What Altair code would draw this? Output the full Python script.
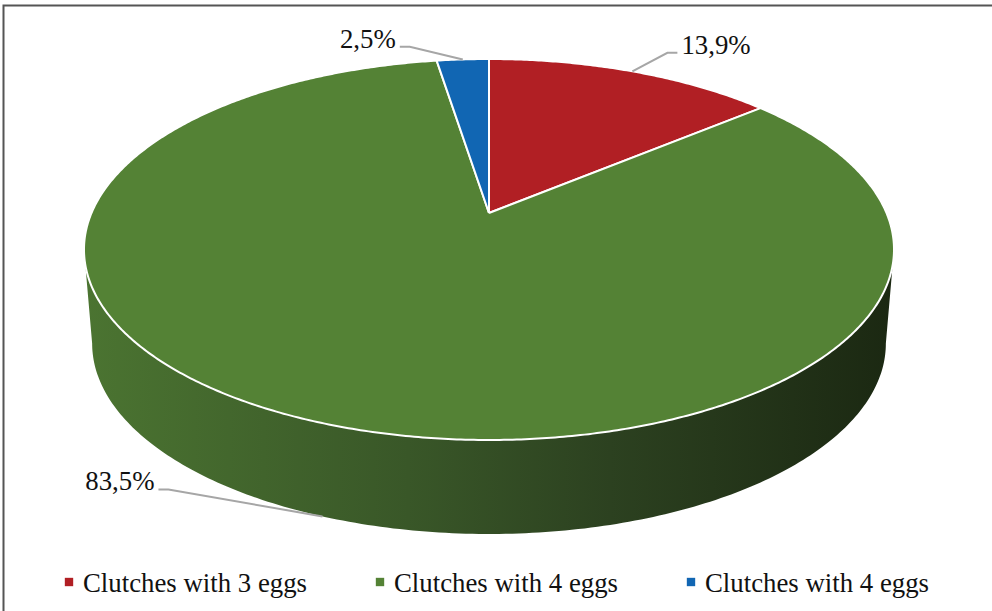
import altair as alt
import numpy as np
import pandas as pd

# ---- data ----
categories = ["Clutches with 3 eggs", "Clutches with 4 eggs", "Clutches with 4 eggs"]
values = [13.9, 83.5, 2.5]
labels = ["13,9%", "83,5%", "2,5%"]
colors = ["#b11f24", "#548235", "#1166b3"]

# ---- layout / style constants ----
W, H = 992, 611
CX, CY = 489.0, 213.0      # pie apex on screen
A, B, K = 397.5, 183.5, 0.1916   # top face size and perspective
A2, CY2 = 389.5, 307.0     # bottom face
FONT = "Liberation Serif, Times New Roman, DejaVu Serif, serif"
FS = 26.8
# leader elbows relative to the slice anchor (label layout)
elbow_off = [(35, -18.5), (-154, -27), (-53, -12.7)]
wall_stops = [(0.0, "#4b7431"), (0.4, "#395728"), (0.65, "#2c4120"), (1.0, "#1b2812")]


def rim(theta_deg, bottom=False):
    t = np.radians(theta_deg)
    u, v = np.cos(t), np.sin(t)
    d = 1 + K * v
    a = A2 if bottom else A
    cy = CY2 if bottom else CY
    return CX + a * u / d, cy - B * v / d


total = sum(values)
fr = np.array(values) / total
ends = np.cumsum(fr)
starts = ends - fr
th_start = 90 - 360 * starts
th_end = 90 - 360 * ends

xs = alt.Scale(domain=[0, W], nice=False, zero=False)
ys = alt.Scale(domain=[0, H], nice=False, zero=False, reverse=True)


def enc(ch, xf="x", yf="y"):
    return ch.encode(
        x=alt.X(f"{xf}:Q", scale=xs, axis=None),
        y=alt.Y(f"{yf}:Q", scale=ys, axis=None),
        order=alt.Order("k:Q"),
    )


layers = []

# frame
frame = alt.Chart(pd.DataFrame({"a": [0]})).mark_rect(
    fill="white", stroke="#555555", strokeWidth=2
).encode(x=alt.value(3.5), x2=alt.value(1000), y=alt.value(5.5), y2=alt.value(640))
layers.append(frame)

# side wall (front part of each slice)
sil = np.degrees(np.arcsin(K))
front_lo, front_hi = -180 + sil, -sil
for i in range(len(values)):
    lo = max(th_end[i], front_lo)
    hi = min(th_start[i], front_hi)
    if hi <= lo:
        continue
    ths = np.linspace(hi, lo, 200)
    pts = [rim(t) for t in ths] + [rim(t, True) for t in ths[::-1]]
    pts.append(pts[0])
    df = pd.DataFrame({"x": [p[0] for p in pts], "y": [p[1] for p in pts], "k": range(len(pts))})
    grad = {
        "gradient": "linear", "x1": 0, "y1": 0, "x2": 1, "y2": 0,
        "stops": [{"offset": o, "color": c} for o, c in wall_stops],
    } if i == 1 else colors[i]
    layers.append(enc(alt.Chart(df).mark_line(fill=grad, stroke=None, strokeWidth=0)))

# top face slices
for i in range(len(values)):
    n = max(int(abs(th_start[i] - th_end[i]) / 0.5), 2)
    ths = np.linspace(th_start[i], th_end[i], n + 1)
    pts = [(CX, CY)] + [rim(t) for t in ths] + [(CX, CY)]
    df = pd.DataFrame({"x": [p[0] for p in pts], "y": [p[1] for p in pts], "k": range(len(pts))})
    layers.append(enc(alt.Chart(df).mark_line(
        fill=colors[i], stroke="white", strokeWidth=2, strokeJoin="round")))

# leader lines and labels
lead_rows, lab_rows = [], []
for i in range(len(values)):
    mid = (th_start[i] + th_end[i]) / 2
    front = np.sin(np.radians(mid)) < 0
    ax, ay = rim(mid, bottom=front)
    dx, dy = elbow_off[i]
    ex, ey = ax + dx, ay + dy
    s = 1 if dx > 0 else -1
    for k, (px, py) in enumerate([(ax, ay), (ex, ey), (ex + s * 10, ey)]):
        lead_rows.append({"sid": i, "k": k, "x": px, "y": py})
    lab_rows.append({"x": ex + s * 14, "y": ey + 1, "label": labels[i],
                     "align": "left" if s > 0 else "right"})

lead = alt.Chart(pd.DataFrame(lead_rows)).mark_line(
    stroke="#a6a6a6", strokeWidth=2
).encode(
    x=alt.X("x:Q", scale=xs, axis=None), y=alt.Y("y:Q", scale=ys, axis=None),
    order=alt.Order("k:Q"), detail="sid:N",
)
layers.append(lead)

labdf = pd.DataFrame(lab_rows)
for al in ["left", "right"]:
    sub = labdf[labdf["align"] == al]
    layers.append(alt.Chart(sub).mark_text(
        font=FONT, fontSize=FS, color="#111111", align=al, baseline="alphabetic"
    ).encode(x=alt.X("x:Q", scale=xs, axis=None), y=alt.Y("y:Q", scale=ys, axis=None),
             text="label:N"))

# legend
leg = pd.DataFrame({"i": range(len(categories)), "cat": categories, "col": colors})
leg_base = alt.Chart(leg).transform_calculate(
    sx="69 + datum.i * 311", tx="83 + datum.i * 311", sy="582", ty="592"
)
layers.append(leg_base.mark_square(size=70, opacity=1).encode(
    x=alt.X("sx:Q", scale=xs, axis=None), y=alt.Y("sy:Q", scale=ys, axis=None),
    fill=alt.Fill("col:N", scale=None), stroke=alt.value(None)))
layers.append(leg_base.mark_text(
    font=FONT, fontSize=FS, color="#111111", align="left", baseline="alphabetic"
).encode(x=alt.X("tx:Q", scale=xs, axis=None), y=alt.Y("ty:Q", scale=ys, axis=None),
         text="cat:N"))

chart = alt.layer(*layers).properties(
    width=W, height=H, padding=0, autosize="none", background="white"
).configure_view(stroke=None)

chart.save("out.html", embed_options={"renderer": "svg", "actions": False})
